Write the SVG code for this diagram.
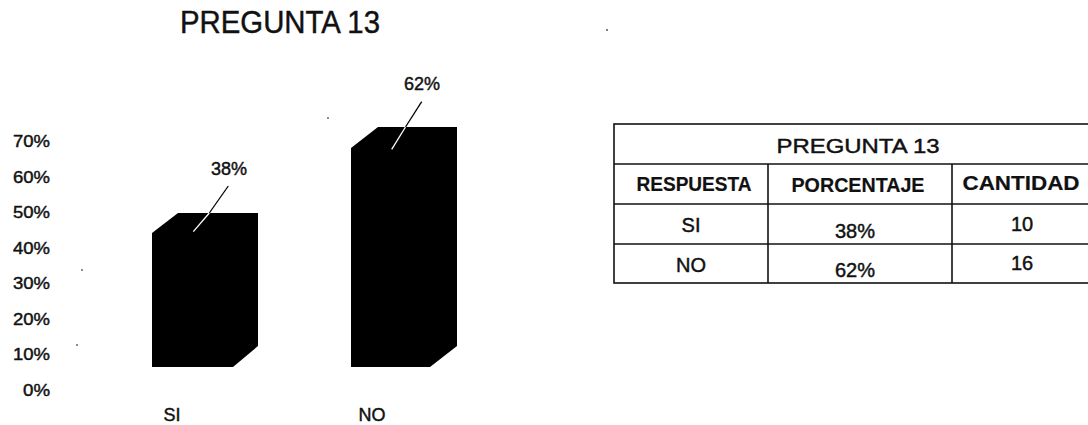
<svg xmlns="http://www.w3.org/2000/svg" width="1088" height="425" viewBox="0 0 1088 425">
  <style>
    .t { font-family: "Liberation Sans", Arial, sans-serif; fill: #111; stroke: #111; stroke-width: 0.45; }
    .ax { font-size: 17px; text-anchor: end; }
    .lbl { font-size: 18px; text-anchor: middle; }
    .cell { font-size: 20px; text-anchor: middle; }
    .hd { font-size: 20px; font-weight: bold; text-anchor: middle; stroke-width: 0.2; }
    .bar { fill: #000; }
    .grid { stroke: #111; stroke-width: 1.6; fill: none; }
    .dot { fill: #555; }
  </style>
  <rect width="1088" height="425" fill="#fff"/>

  <g id="chart-title">
    <text class="t" x="180" y="33" font-size="32" textLength="200" lengthAdjust="spacingAndGlyphs">PREGUNTA 13</text>
  </g>

  <g id="y-axis">
    <text class="t ax" x="50" y="147" textLength="37" lengthAdjust="spacingAndGlyphs">70%</text>
    <text class="t ax" x="50" y="182.5" textLength="37" lengthAdjust="spacingAndGlyphs">60%</text>
    <text class="t ax" x="50" y="218" textLength="37" lengthAdjust="spacingAndGlyphs">50%</text>
    <text class="t ax" x="50" y="253.5" textLength="37" lengthAdjust="spacingAndGlyphs">40%</text>
    <text class="t ax" x="50" y="289" textLength="37" lengthAdjust="spacingAndGlyphs">30%</text>
    <text class="t ax" x="50" y="324.5" textLength="37" lengthAdjust="spacingAndGlyphs">20%</text>
    <text class="t ax" x="50" y="360" textLength="37" lengthAdjust="spacingAndGlyphs">10%</text>
    <text class="t ax" x="50" y="395.5" textLength="27" lengthAdjust="spacingAndGlyphs">0%</text>
  </g>

  <g id="bar-si">
    <polygon class="bar" points="152,233 178,213 258,213 258,346 233,367 152,367"/>
    <text class="t lbl" x="229" y="175">38%</text>
    <text class="t lbl" x="172" y="421">SI</text>
  </g>

  <g id="bar-no">
    <polygon class="bar" points="351,148 378,127 457,127 457,346 430,367 351,367"/>
    <text class="t lbl" x="422" y="90">62%</text>
    <text class="t lbl" x="372" y="421">NO</text>
  </g>

  <g id="connectors" stroke-width="1.3" fill="none">
    <line x1="228.3" y1="186" x2="209.3" y2="213" stroke="#000"/>
    <line x1="209.3" y1="213" x2="193.3" y2="231.7" stroke="#fff"/>
    <line x1="421.7" y1="101.7" x2="405.5" y2="127" stroke="#000"/>
    <line x1="405.5" y1="127" x2="391.7" y2="149.3" stroke="#fff"/>
  </g>

  <g id="specks">
    <circle class="dot" cx="82" cy="270" r="0.9"/>
    <circle class="dot" cx="77" cy="345" r="0.9"/>
    <circle class="dot" cx="328" cy="118" r="0.9"/>
    <circle class="dot" cx="607" cy="30" r="1"/>
  </g>

  <g id="table">
    <rect class="grid" x="614" y="124" width="478" height="159"/>
    <line class="grid" x1="614" y1="164" x2="1092" y2="164"/>
    <line class="grid" x1="614" y1="204" x2="1092" y2="204"/>
    <line class="grid" x1="614" y1="244" x2="1092" y2="244"/>
    <line class="grid" x1="768" y1="164" x2="768" y2="283"/>
    <line class="grid" x1="952" y1="164" x2="952" y2="283"/>
    <text class="t cell" x="858" y="153" textLength="163" lengthAdjust="spacingAndGlyphs">PREGUNTA 13</text>
    <text class="t hd" x="694" y="191" textLength="115" lengthAdjust="spacingAndGlyphs">RESPUESTA</text>
    <text class="t hd" x="858" y="192" textLength="133" lengthAdjust="spacingAndGlyphs">PORCENTAJE</text>
    <text class="t hd" x="1021" y="190" textLength="117" lengthAdjust="spacingAndGlyphs">CANTIDAD</text>
    <text class="t cell" x="691" y="232">SI</text>
    <text class="t cell" x="855" y="238">38%</text>
    <text class="t cell" x="1022" y="231">10</text>
    <text class="t cell" x="691" y="272">NO</text>
    <text class="t cell" x="855" y="277">62%</text>
    <text class="t cell" x="1022" y="270">16</text>
  </g>
</svg>
